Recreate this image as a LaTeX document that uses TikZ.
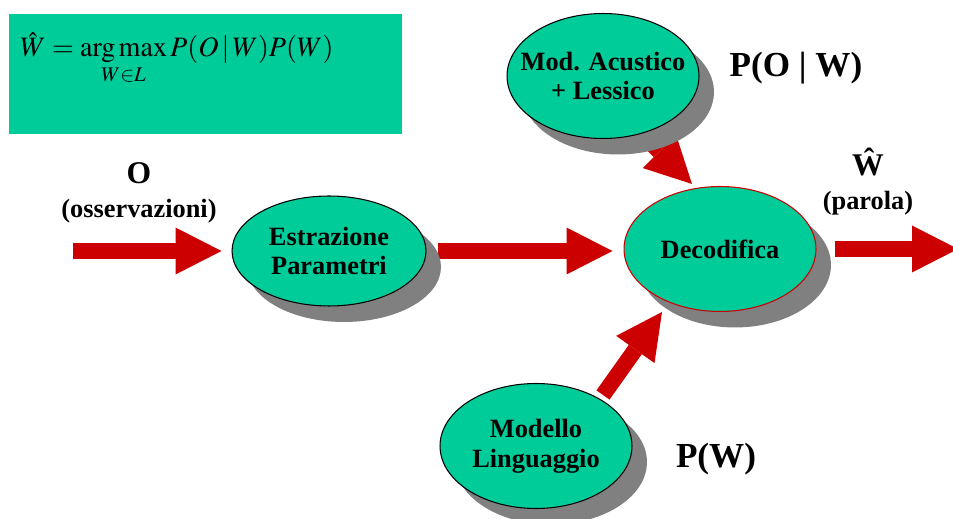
\documentclass[tikz,border=0pt]{standalone}
\usepackage{mathptmx}
\usepackage{fontspec}
\setmainfont{Liberation Serif}
\usetikzlibrary{arrows.meta,shapes.geometric,shadows,backgrounds,calc}

\definecolor{mintgreen}{RGB}{0,204,153}
\definecolor{arrowred}{RGB}{204,0,0}
\definecolor{shadowgray}{RGB}{128,128,128}

\tikzset{
  stage/.style={ellipse, draw=black, line width=0.6pt, fill=mintgreen,
    inner xsep=-0.7cm, inner ysep=-0.3cm, minimum width=3.84cm, minimum height=2.5cm,
    align=center, font=\fontsize{15}{17}\selectfont\bfseries,
    drop shadow={shadow xshift=0.3cm, shadow yshift=-0.32cm, fill=shadowgray, opacity=1}},
  bigarrow/.style={arrowred, line width=0.32cm,
    -{Triangle[length=0.92cm,width=0.94cm,line width=0pt]}},
  biglabel/.style={font=\fontsize{20}{22}\selectfont\bfseries},
  midlabel/.style={font=\fontsize{18}{20}\selectfont\bfseries},
  smalllabel/.style={font=\fontsize{15}{17}\selectfont\bfseries}
}

\begin{document}
\begin{tikzpicture}[x=0.02cm,y=-0.02cm]
\useasboundingbox (0,0) rectangle (953,519);

% formula box
\fill[mintgreen] (9,14) rectangle (402,134);
\node[anchor=base west, inner sep=0pt, font=\fontsize{16}{18}\selectfont] (formula) at (20,57)
  {$\hat{W} = \mathop{\mathrm{arg\,max}}\limits_{W\in L} P(O\,|\,W)P(W)$};

% blocks
\node[stage, minimum height=2.2cm, minimum width=3.88cm] (estr) at (329,251) {Estrazione\\Parametri};
\node[stage] (acu) at (603,76) {Mod. Acustico\\+ Lessico};
\node[stage, draw=arrowred] (dec) at (720,249) {Decodifica};
\node[stage] (ling) at (536,446) {Modello\\Linguaggio};

% labels
\node[midlabel] (olab) at (139,173) {O};
\node[smalllabel] (osslab) at (139,211) {(osservazioni)};
\node[biglabel] (polw) at (796,68) {P(O | W)};
\node[midlabel] (what) at (868,162) {\^W};
\node[smalllabel] (parlab) at (868,203) {(parola)};
\node[biglabel] (pw) at (716,459) {P(W)};

% arrows behind the ellipses
\coordinate (obs) at (73,251);
\coordinate (word) at (958,249);
\begin{scope}[on background layer]
\draw[bigarrow] (obs) -- ($(estr.west)+(-10,0)$);
\draw[bigarrow] ($(estr.east)+(11,0)$) -- ($(dec.west |- estr.east)+(-11,0)$);
\draw[bigarrow] ($(dec.east)+(18,0)$) -- (word);
\draw[bigarrow] ($(acu)+(45,64)$) -- ($(dec)+(-28,-65)$);
\draw[bigarrow] ($(ling)+(67,-51)$) -- ($(dec)+(-58,63)$);
\end{scope}
\end{tikzpicture}
\end{document}
